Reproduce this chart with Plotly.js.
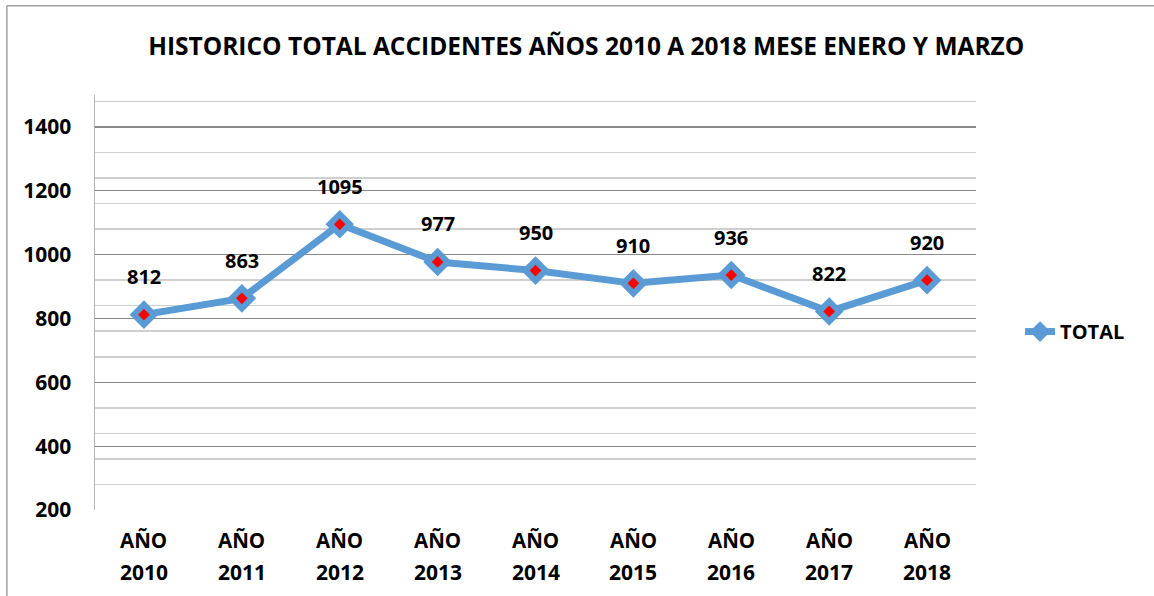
<!DOCTYPE html>
<html>
<head>
<meta charset="utf-8">
<script src="https://cdn.plot.ly/plotly-3.0.1.min.js"></script>
<style>html,body{margin:0;padding:0;background:#fff;}#chart{width:1154px;height:596px;}</style>
</head>
<body>
<div id="chart"></div>
<script>
const categories = ["2010", "2011", "2012", "2013", "2014", "2015", "2016", "2017", "2018"];
const totals = [812, 863, 1095, 977, 950, 910, 936, 822, 920];
const yTicks = [200, 400, 600, 800, 1000, 1200, 1400];
const titleText = "HISTORICO TOTAL ACCIDENTES AÑOS 2010 A 2018 MESE ENERO Y MARZO";
const seriesName = "TOTAL";

const FONT = "Open Sans, Liberation Sans, sans-serif";
const xcats = categories.map(c => "AÑO " + c);

const traces = [
  {
    x: xcats, y: totals, type: "scatter", mode: "lines+markers", name: "<b>" + seriesName + "</b>",
    line: {color: "#5B9BD5", width: 7},
    marker: {symbol: "diamond", size: 22, color: "#5B9BD5"},
    hoverinfo: "skip"
  },
  {
    x: xcats, y: totals, type: "scatter", mode: "markers", showlegend: false,
    marker: {symbol: "diamond", size: 9, color: "#FF0000"},
    hoverinfo: "skip"
  }
];

const annotations = [];
totals.forEach((v, i) => {
  annotations.push({x: xcats[i], y: v, xref: "x", yref: "y", text: "<b>" + v + "</b>",
    showarrow: false, yshift: 38, font: {family: FONT, size: 20, color: "#000"}});
  annotations.push({x: xcats[i], y: 0, xref: "x", yref: "paper", text: "<b>AÑO</b>",
    showarrow: false, yanchor: "middle", yshift: -30, font: {family: FONT, size: 20.5, color: "#000"}});
  annotations.push({x: xcats[i], y: 0, xref: "x", yref: "paper", text: "<b>" + categories[i] + "</b>",
    showarrow: false, yanchor: "middle", yshift: -62, font: {family: FONT, size: 21, color: "#000"}});
});

const layout = {
  width: 1154, height: 596,
  margin: {l: 95, r: 178, t: 95, b: 86},
  paper_bgcolor: "#fff", plot_bgcolor: "#fff",
  title: {text: "<b>" + titleText + "</b>", x: 0.508, xanchor: "center", y: 0.922, yanchor: "middle",
    font: {family: FONT, size: 24.5, color: "#000"}},
  xaxis: {
    type: "category", range: [-0.5, 8.5], showticklabels: false, showgrid: false,
    zeroline: false, showline: false, ticks: "", fixedrange: true
  },
  yaxis: {
    range: [200, 1500], tickmode: "array", tickvals: yTicks, ticktext: yTicks.map(t => "<b>" + t + "</b>"),
    tickfont: {family: FONT, size: 21, color: "#000"},
    showgrid: true, gridcolor: "#8a8a8a", gridwidth: 1.3,
    minor: {tick0: 200, dtick: 80, showgrid: true, gridcolor: "#cfcfcf", gridwidth: 1.5, ticks: ""},
    zeroline: false, showline: true, linecolor: "#b5b5b5", linewidth: 1.5,
    ticks: "", ticklabelstandoff: 18, fixedrange: true
  },
  showlegend: true,
  legend: {x: 1.05, xanchor: "left", y: 0.43, yanchor: "middle",
    font: {family: FONT, size: 20, color: "#000"}, bgcolor: "rgba(0,0,0,0)"},
  annotations: annotations,
  shapes: [
    {type: "line", xref: "paper", yref: "paper", x0: -0.1, x1: 1.3, y0: 1.215, y1: 1.215, line: {color: "#a0a0a0", width: 1.5}},
    {type: "line", xref: "paper", yref: "paper", x0: -0.1, x1: -0.1, y0: 1.215, y1: -0.3, line: {color: "#a0a0a0", width: 1.5}}
  ]
};

Plotly.newPlot("chart", traces, layout, {displayModeBar: false, staticPlot: true});
</script>
</body>
</html>
